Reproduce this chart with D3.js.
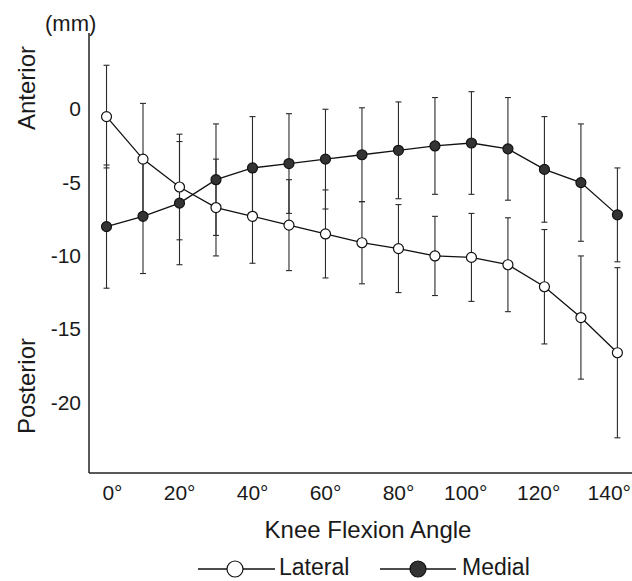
<!DOCTYPE html>
<html>
<head>
<meta charset="utf-8">
<script src="https://cdn.jsdelivr.net/npm/d3@7"></script>
<style>
  body { margin: 0; background: #fff; }
  text { font-family: "Liberation Sans", Arial, sans-serif; fill: #1a1a1a; }
</style>
</head>
<body>
<div id="chart"></div>
<script>
var width = 632;
var height = 581;

// data (mean and SD, mm)
var angles = [0, 10, 20, 30, 40, 50, 60, 70, 80, 90, 100, 110, 120, 130, 140];
var lateralMean = [-0.7, -3.6, -5.5, -6.9, -7.5, -8.1, -8.7, -9.3, -9.7, -10.2, -10.3, -10.8, -12.3, -14.4, -16.8];
var lateralSD = [3.5, 3.8, 3.6, 3.3, 3.2, 3.1, 3.0, 2.8, 3.0, 2.7, 3.0, 3.2, 3.9, 4.2, 5.8];
var medialMean = [-8.2, -7.5, -6.6, -5.0, -4.2, -3.9, -3.6, -3.3, -3.0, -2.7, -2.5, -2.9, -4.3, -5.2, -7.4];
var medialSD = [4.2, 3.9, 4.2, 3.8, 3.5, 3.4, 3.4, 3.2, 3.3, 3.3, 3.5, 3.5, 3.6, 4.0, 3.2];

var xTicks = [0, 20, 40, 60, 80, 100, 120, 140];
var yTicks = [0, -5, -10, -15, -20];

var svg = d3.select("#chart")
    .append("svg")
    .attr("width", width)
    .attr("height", height);

var x = d3.scaleLinear().domain([-4.8, 144]).range([89, 632]);
var y = d3.scaleLinear().domain([-25, 5]).range([473, 33]);

var series = [
    { name: "Lateral", mean: lateralMean, sd: lateralSD, fill: "#ffffff" },
    { name: "Medial", mean: medialMean, sd: medialSD, fill: "#333333" }
];

//------------------ axes ------------------
svg.append("line")
    .attr("x1", x(-4.8)).attr("x2", x(-4.8))
    .attr("y1", y(5)).attr("y2", y(-25))
    .attr("stroke", "#222").attr("stroke-width", 1.5);
svg.append("line")
    .attr("x1", x(-4.8)).attr("x2", x(144))
    .attr("y1", y(-25)).attr("y2", y(-25))
    .attr("stroke", "#222").attr("stroke-width", 1.5);

svg.selectAll(".ylab")
    .data(yTicks)
    .join("text")
    .attr("x", 81)
    .attr("y", d => y(d) + 10)
    .attr("text-anchor", "end")
    .style("font-size", "21px")
    .text(d => d);

// labels sit right-aligned just past each angle, as in the original
svg.selectAll(".xlab")
    .data(xTicks)
    .join("text")
    .attr("x", d => Math.min(x(d) + 16, 631))
    .attr("y", 500)
    .attr("text-anchor", "end")
    .style("font-size", "21px")
    .text(d => d + "\u00b0");

svg.append("text")
    .attr("x", 45).attr("y", 31)
    .style("font-size", "22px")
    .text("(mm)");

svg.append("text")
    .attr("transform", "translate(35, 88) rotate(-90)")
    .attr("text-anchor", "middle")
    .style("font-size", "24px")
    .text("Anterior");

svg.append("text")
    .attr("transform", "translate(35, 386) rotate(-90)")
    .attr("text-anchor", "middle")
    .style("font-size", "24px")
    .text("Posterior");

svg.append("text")
    .attr("x", 368).attr("y", 538)
    .attr("text-anchor", "middle")
    .style("font-size", "24px")
    .text("Knee Flexion Angle");

//------------------ error bars ------------------
series.forEach(function(s) {
    var g = svg.append("g").attr("class", "err");
    angles.forEach(function(a, i) {
        var top = y(s.mean[i] + s.sd[i]);
        var bot = y(s.mean[i] - s.sd[i]);
        g.append("line")
            .attr("x1", x(a)).attr("x2", x(a))
            .attr("y1", top).attr("y2", bot)
            .attr("stroke", "#2a2a2a").attr("stroke-width", 1.1);
        [top, bot].forEach(function(v) {
            g.append("line")
                .attr("x1", x(a) - 3).attr("x2", x(a) + 3)
                .attr("y1", v).attr("y2", v)
                .attr("stroke", "#2a2a2a").attr("stroke-width", 1.1);
        });
    });
});

//------------------ lines and markers ------------------
var line = d3.line()
    .x((d, i) => x(angles[i]))
    .y(d => y(d));

series.forEach(function(s) {
    svg.append("path")
        .datum(s.mean)
        .attr("d", line)
        .attr("fill", "none")
        .attr("stroke", "#111")
        .attr("stroke-width", 1.3);
});

series.forEach(function(s) {
    svg.selectAll(".pt-" + s.name)
        .data(s.mean)
        .join("circle")
        .attr("cx", (d, i) => x(angles[i]))
        .attr("cy", d => y(d))
        .attr("r", 5)
        .attr("fill", s.fill)
        .attr("stroke", "#111")
        .attr("stroke-width", 1.2);
});

//------------------ legend ------------------
var legendItems = [
    { name: "Lateral", fill: "#ffffff", x0: 198, x1: 275, cx: 235, tx: 279 },
    { name: "Medial", fill: "#333333", x0: 380, x1: 456, cx: 418, tx: 462 }
];
legendItems.forEach(function(d) {
    svg.append("line")
        .attr("x1", d.x0).attr("x2", d.x1)
        .attr("y1", 569).attr("y2", 569)
        .attr("stroke", "#111").attr("stroke-width", 1.3);
    svg.append("circle")
        .attr("cx", d.cx).attr("cy", 569).attr("r", 8)
        .attr("fill", d.fill)
        .attr("stroke", "#111").attr("stroke-width", 1.2);
    svg.append("text")
        .attr("x", d.tx).attr("y", 575)
        .style("font-size", "23px")
        .text(d.name);
});
</script>
</body>
</html>
